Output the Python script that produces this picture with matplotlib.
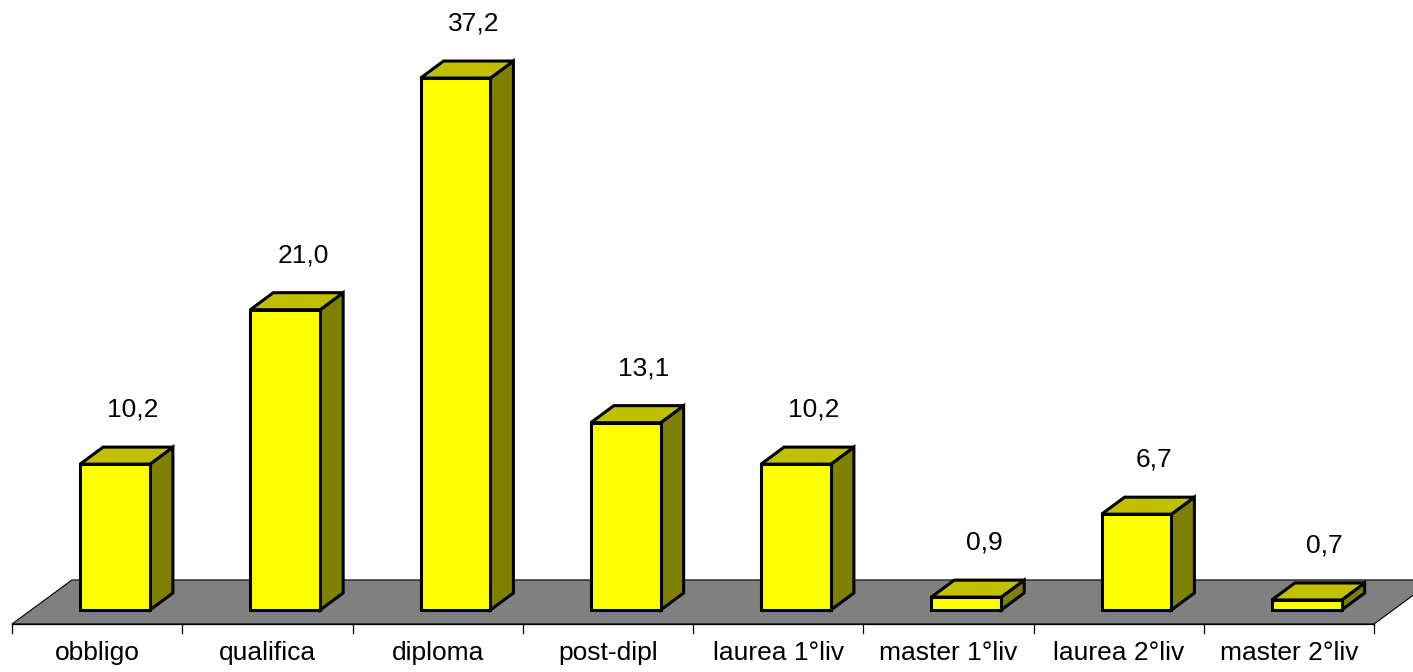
import matplotlib
matplotlib.use("Agg")
import matplotlib.pyplot as plt
from matplotlib.patches import Polygon

# Percentuali per titolo di studio
categories = ["obbligo", "qualifica", "diploma", "post-dipl",
              "laurea 1°liv", "master 1°liv", "laurea 2°liv", "master 2°liv"]
values = [10.2, 21.0, 37.2, 13.1, 10.2, 0.9, 6.7, 0.7]
value_labels = ["10,2", "21,0", "37,2", "13,1", "10,2", "0,9", "6,7", "0,7"]

# 3D look: bar faces, floor and depth offsets (x in category units, y in value units)
FRONT = "#FFFF00"
TOP = "#C0C000"
SIDE = "#808000"
FLOOR = "#808080"
BAR_LEFT, BAR_W = 0.40, 0.41
DEPTH_X, DEPTH_Y = 0.135, 1.19
FLOOR_FRONT, FLOOR_BACK, FLOOR_DX = -0.98, 2.10, 0.352
PX_X, PX_Y = 170.25, 14.3          # pixels per category / per unit

W, H = 1413, 672
fig = plt.figure(figsize=(W / 100, H / 100), dpi=100)
ax = fig.add_axes([0, 0, 1, 1])
ax.set_xlim(-12 / PX_X, (W - 12) / PX_X)
ax.set_ylim((610 - H) / PX_Y, 610 / PX_Y)
ax.axis("off")

font = dict(family=["Liberation Sans", "DejaVu Sans"], fontsize=19, color="black")

n = len(categories)
# floor
ax.add_patch(Polygon([(0, FLOOR_FRONT), (n, FLOOR_FRONT),
                      (n + FLOOR_DX, FLOOR_BACK), (FLOOR_DX, FLOOR_BACK)],
                     closed=True, facecolor=FLOOR, edgecolor="black", lw=0.8, zorder=1))
# category axis with tick marks between categories
ax.plot([0, n], [FLOOR_FRONT, FLOOR_FRONT], color="black", lw=0.9, zorder=2)
for k in range(n + 1):
    ax.plot([k, k], [FLOOR_FRONT, FLOOR_FRONT - 0.63], color="black", lw=0.9, zorder=2)

edge = dict(edgecolor="black", lw=2.2, joinstyle="miter", zorder=3)
for i, (v, lab, cat) in enumerate(zip(values, value_labels, categories)):
    x0 = i + BAR_LEFT
    x1 = x0 + BAR_W
    front = [(x0, 0), (x1, 0), (x1, v), (x0, v)]
    top = [(x0, v), (x1, v), (x1 + DEPTH_X, v + DEPTH_Y), (x0 + DEPTH_X, v + DEPTH_Y)]
    side = [(x1, 0), (x1 + DEPTH_X, DEPTH_Y), (x1 + DEPTH_X, v + DEPTH_Y), (x1, v)]
    ax.add_patch(Polygon(side, closed=True, facecolor=SIDE, **edge))
    ax.add_patch(Polygon(top, closed=True, facecolor=TOP, **edge))
    ax.add_patch(Polygon(front, closed=True, facecolor=FRONT, **edge))
    ax.text(i + 0.71, v + 3.8, lab, ha="center", va="center", **font)
    ax.text(i + 0.5, -3.5, cat, ha="center", va="baseline", **font)

fig.savefig("out.png", dpi=100, facecolor="white")
